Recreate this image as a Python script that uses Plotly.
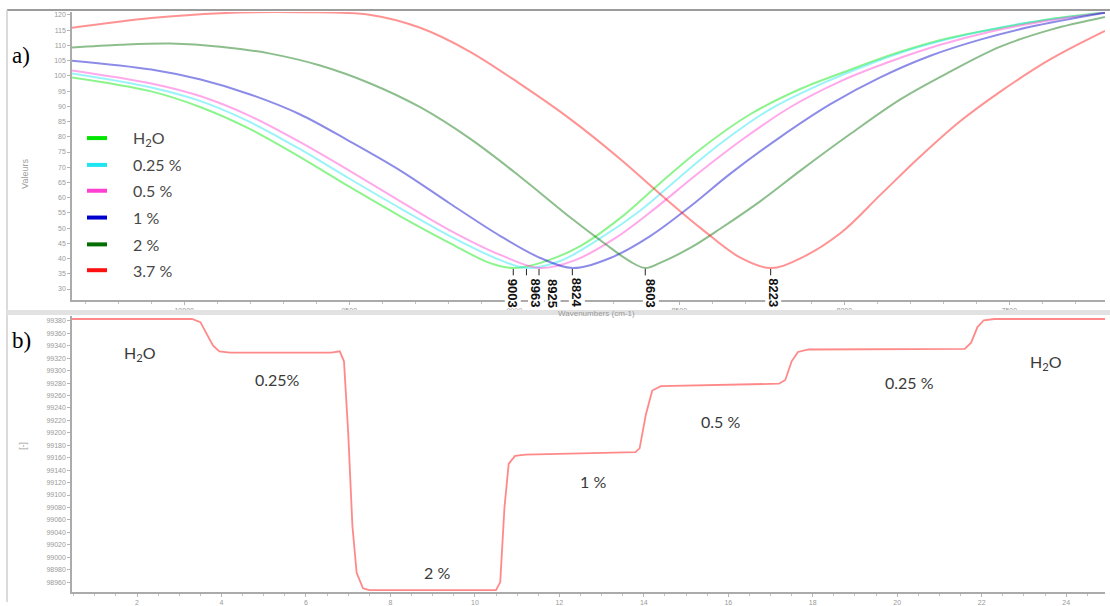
import plotly.graph_objects as go

# ---------------------------------------------------------------- data
series_names = ["H<sub>2</sub>O", "0.25 %", "0.5 %", "1 %", "2 %", "3.7 %"]
legend_colors = ["#00e600", "#1fe5f0", "#ff40d0", "#0000cc", "#006e00", "#ff1010"]

# reflectivity dips: wavenumber (cm-1) / signal
wn_h2o = [10340, 10100, 9950, 9800, 9650, 9500, 9345, 9195, 9075, 9003, 8920,
          8800, 8680, 8560, 8435, 8285, 8135, 7980, 7830, 7680, 7525, 7375, 7210]
val_h2o = [99.5, 94.9, 89.7, 82.5, 73.4, 63.6, 53.9, 45.1, 38.6, 36.9, 38.6,
           44.1, 53.2, 64.6, 76.0, 87.4, 95.6, 102.1, 107.9, 112.5, 115.8, 118.7, 120.8]

wn_025 = [10340, 10100, 9950, 9800, 9650, 9500, 9345, 9195, 9042, 8963, 8861,
          8739, 8618, 8497, 8376, 8224, 8073, 7921, 7770, 7618, 7467, 7210]
val_025 = [100.8, 96.2, 91.7, 84.8, 76.0, 66.3, 56.5, 47.4, 39.5, 36.9, 39.2,
           46.7, 55.8, 66.9, 77.7, 89.1, 97.2, 104.0, 109.6, 113.8, 117.1, 120.8]

wn_05 = [10340, 10100, 9950, 9800, 9650, 9500, 9345, 9195, 9042, 8925, 8815,
         8694, 8573, 8452, 8315, 8164, 8012, 7861, 7709, 7558, 7406, 7210]
val_05 = [101.8, 97.5, 93.3, 86.8, 78.3, 68.9, 58.8, 49.3, 41.2, 36.9, 39.5,
          46.7, 56.5, 67.2, 78.6, 89.7, 98.2, 104.7, 110.2, 114.5, 117.7, 120.8]

wn_1 = [10340, 10100, 9950, 9800, 9650, 9500, 9345, 9195, 9042, 8921, 8824,
        8709, 8588, 8467, 8345, 8194, 8042, 7891, 7739, 7588, 7436, 7210]
val_1 = [105.0, 102.1, 98.8, 93.9, 87.4, 78.6, 68.9, 58.1, 47.4, 40.2, 36.9,
         40.2, 47.4, 57.1, 67.9, 79.9, 90.7, 99.5, 106.6, 111.9, 116.1, 120.7]

wn_2 = [10340, 10194, 10042, 9891, 9739, 9588, 9436, 9285, 9133, 8982, 8830,
        8724, 8648, 8603, 8558, 8467, 8376, 8255, 8133, 7982, 7830, 7679, 7527,
        7376, 7210]
val_2 = [109.3, 110.2, 110.6, 109.6, 107.3, 103.4, 97.5, 89.7, 79.3, 66.9, 53.5,
         44.8, 39.0, 36.9, 38.6, 43.5, 49.8, 58.8, 68.9, 80.9, 92.3, 101.4, 109.6,
         115.1, 119.3]

wn_37 = [10340, 10100, 9890, 9650, 9435, 9285, 9135, 8980, 8830, 8680, 8560,
         8435, 8315, 8223, 8135, 8010, 7890, 7770, 7650, 7525, 7375, 7210]
val_37 = [115.8, 119.0, 120.6, 120.9, 120.0, 115.8, 108.0, 97.2, 85.8, 72.8, 61.4,
          50.0, 40.3, 36.9, 40.0, 48.5, 61.0, 73.5, 85.0, 95.0, 105.5, 114.8]

curves_wn = [wn_h2o, wn_025, wn_05, wn_1, wn_2, wn_37]
curves_val = [val_h2o, val_025, val_05, val_1, val_2, val_37]

# resonance positions (cm-1)
min_labels = [9003, 8963, 8925, 8824, 8603, 8223]

# time trace: time / signal
time_pts = [0.46, 3.30, 3.50, 3.65, 3.80, 3.95, 4.20, 6.60, 6.80, 6.90, 7.00, 7.10,
            7.20, 7.35, 7.50, 10.50, 10.60, 10.70, 10.80, 10.95, 11.20, 13.80,
            13.90, 14.05, 14.20, 14.40, 17.20, 17.35, 17.50, 17.65, 17.90, 21.60,
            21.75, 21.90, 22.05, 22.30, 24.92]
signal_pts = [99383, 99383, 99378, 99360, 99340, 99331, 99329, 99329, 99331, 99315,
              99200, 99050, 98975, 98950, 98947, 98947, 98960, 99080, 99150, 99163,
              99165, 99169, 99175, 99230, 99268, 99275, 99279, 99285, 99315, 99330,
              99334, 99335, 99345, 99370, 99381, 99383, 99383]

step_labels = ["H<sub>2</sub>O", "0.25%", "2 %", "1 %", "0.5 %", "0.25 %", "H<sub>2</sub>O"]

# ---------------------------------------------------------------- layout helpers
W, H = 1110, 606


def px(x):
    return x / W


def py(y):
    return 1 - y / H


def rgba(hex_color, a):
    h = hex_color.lstrip("#")
    r, g, b = int(h[0:2], 16), int(h[2:4], 16), int(h[4:6], 16)
    return f"rgba({r},{g},{b},{a})"


fig = go.Figure()

for name, wn, val, col in zip(series_names, curves_wn, curves_val, legend_colors):
    fig.add_trace(go.Scatter(
        x=wn, y=val, mode="lines", name=name, showlegend=False,
        line=dict(color=rgba(col, 0.45), width=2, shape="spline", smoothing=1.0),
        xaxis="x", yaxis="y", hoverinfo="skip"))

fig.add_trace(go.Scatter(
    x=time_pts, y=signal_pts, mode="lines", showlegend=False,
    line=dict(color="rgba(255,40,40,0.55)", width=1.8),
    xaxis="x2", yaxis="y2", hoverinfo="skip"))

tick_font = dict(family="Liberation Sans", size=7, color="#9a9a9a")
axis_common = dict(showgrid=False, zeroline=False, showline=True, linecolor="#ababab",
                   linewidth=1.5, ticks="outside", ticklen=3, tickcolor="#b5b5b5",
                   tickfont=tick_font, tickformat="d")

x_dom = [px(72), px(1105)]
fig.update_layout(
    width=W, height=H, margin=dict(l=0, r=0, t=0, b=0),
    paper_bgcolor="white", plot_bgcolor="white", showlegend=False,
    xaxis=dict(domain=x_dom, range=[10340, 7210], dtick=500, tick0=0, anchor="y",
               minor=dict(dtick=100, ticks="outside", ticklen=2, tickcolor="#c0c0c0"),
               **axis_common),
    yaxis=dict(domain=[py(302), py(12)], range=[26.4, 121.0], dtick=5, tick0=0,
               anchor="x", **axis_common),
    xaxis2=dict(domain=x_dom, range=[0.46, 24.92], dtick=2, tick0=0, anchor="y2",
                minor=dict(dtick=0.5, ticks="outside", ticklen=2, tickcolor="#c0c0c0"),
                **axis_common),
    yaxis2=dict(domain=[py(596), py(318)], range=[98944, 99388], dtick=20, tick0=98960,
                anchor="x2", **axis_common),
)

shapes = []
annotations = []

# window frames around the two panels
shapes.append(dict(type="line", xref="paper", yref="paper", x0=px(7), x1=1, y0=py(10), y1=py(10),
                   line=dict(color="#9c9c9c", width=2)))
shapes.append(dict(type="line", xref="paper", yref="paper", x0=px(7), x1=px(7), y0=py(10), y1=0,
                   line=dict(color="#cfcfcf", width=1.5)))
shapes.append(dict(type="rect", xref="paper", yref="paper", x0=px(7), x1=1, y0=py(317), y1=py(312),
                   fillcolor="#e2e2e2", line=dict(width=0)))

# resonance markers
label_shift = [0, 10, 14, 5, 6, 3]
for wn, val, lab, dx in zip(curves_wn, curves_val, min_labels, label_shift):
    vmin = min(val)
    shapes.append(dict(type="line", xref="x", yref="y", x0=lab, x1=lab, y0=vmin - 0.3, y1=vmin - 2.4,
                       line=dict(color="#222222", width=1)))
    annotations.append(dict(xref="x", yref="y", x=lab, y=vmin, text=str(lab), showarrow=False,
                            textangle=90, xshift=dx, yshift=-25, bgcolor="white", borderpad=0,
                            font=dict(family="Liberation Sans", size=13, color="#111111", weight="bold")))

# legend
row_y = [139, 166, 192, 219, 246, 272]
for name, col, ry in zip(series_names, legend_colors, row_y):
    shapes.append(dict(type="line", xref="paper", yref="paper", x0=px(87), x1=px(107), y0=py(ry), y1=py(ry),
                       line=dict(color=col, width=4)))
    annotations.append(dict(xref="paper", yref="paper", x=px(131), y=py(ry), text=name, showarrow=False,
                            xanchor="left", yanchor="middle",
                            font=dict(family="Lato", size=16, color="#474747")))

# step labels in the time trace
step_pos = [(2.07, 99327), (5.32, 99285), (9.10, 98976), (12.80, 99121),
            (15.81, 99219), (20.30, 99281), (23.53, 99313)]
for txt, (tx, ty) in zip(step_labels, step_pos):
    annotations.append(dict(xref="x2", yref="y2", x=tx, y=ty, text=txt, showarrow=False,
                            font=dict(family="Lato", size=16, color="#3a3a3a")))

# panel letters
annotations.append(dict(xref="paper", yref="paper", x=px(10), y=py(41), text="a)", showarrow=False,
                        xanchor="left", font=dict(family="Liberation Serif", size=23, color="black")))
annotations.append(dict(xref="paper", yref="paper", x=px(10), y=py(343), text="b)", showarrow=False,
                        xanchor="left", font=dict(family="Liberation Serif", size=23, color="black")))

# axis titles
annotations.append(dict(xref="paper", yref="paper", x=px(18), y=py(158), text="Valeurs", showarrow=False,
                        textangle=-90, font=dict(family="Liberation Sans", size=9, color="#a0a0a0")))
annotations.append(dict(xref="paper", yref="paper", x=px(596), y=py(316), text="Wavenumbers (cm-1)",
                        showarrow=False, font=dict(family="Liberation Sans", size=8, color="#9a9a9a")))
annotations.append(dict(xref="paper", yref="paper", x=px(16), y=py(455), text="[-]", showarrow=False,
                        textangle=-90, font=dict(family="Liberation Sans", size=9, color="#a0a0a0")))

fig.update_layout(shapes=shapes, annotations=annotations)

fig.write_html("out.html")
